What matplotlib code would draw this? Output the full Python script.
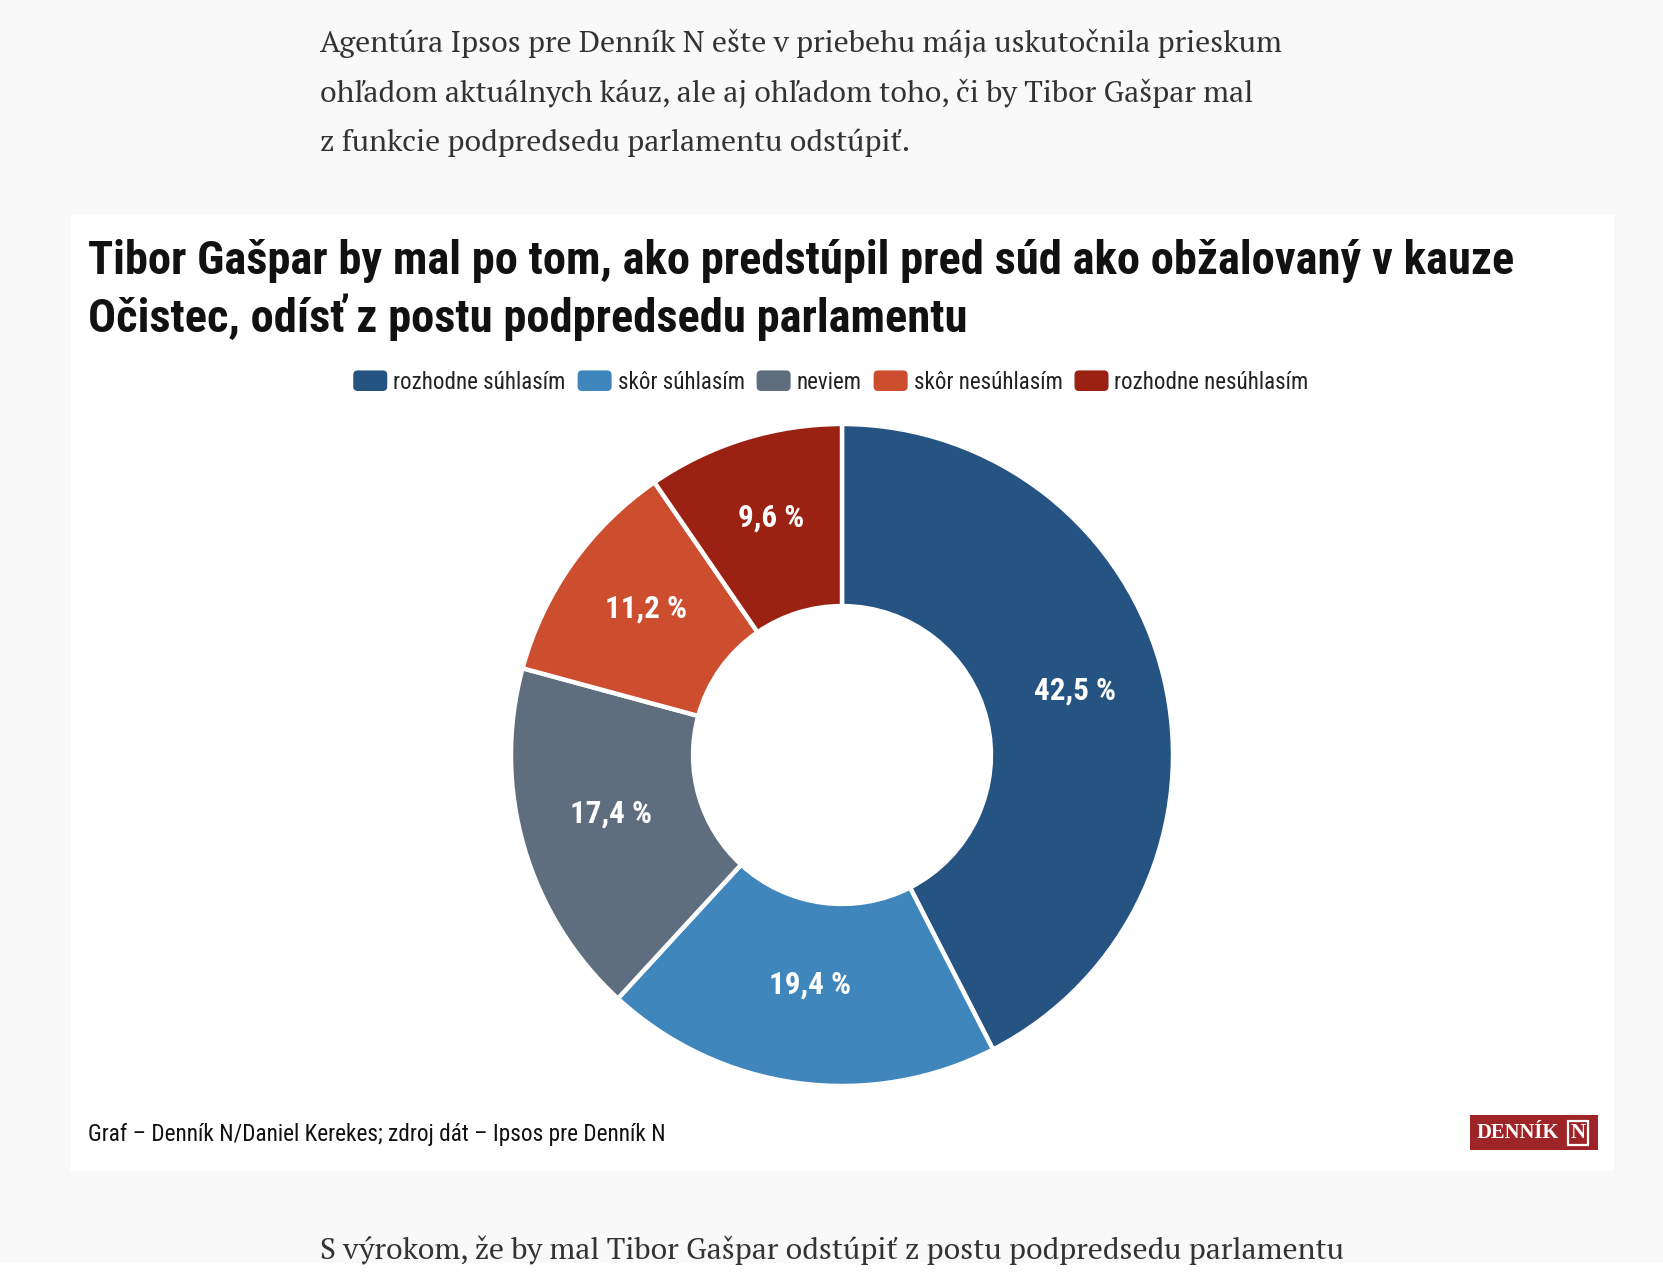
import matplotlib
matplotlib.use("Agg")
import matplotlib.pyplot as plt
from matplotlib import font_manager
from matplotlib.patches import Rectangle, Patch, FancyBboxPatch
from matplotlib.legend_handler import HandlerPatch
from matplotlib.transforms import offset_copy

# data
categories = ["rozhodne súhlasím", "skôr súhlasím", "neviem", "skôr nesúhlasím", "rozhodne nesúhlasím"]
values = [42.5, 19.4, 17.4, 11.2, 9.6]
colors = ["#255482", "#3f86bc", "#5e6e7e", "#cd4e2f", "#9b2212"]

title_lines = ["Tibor Gašpar by mal po tom, ako predstúpil pred súd ako obžalovaný v kauze",
               "Očistec, odísť z postu podpredsedu parlamentu"]
intro = ["Agentúra Ipsos pre Denník N ešte v priebehu mája uskutočnila prieskum",
         "ohľadom aktuálnych káuz, ale aj ohľadom toho, či by Tibor Gašpar mal",
         "z funkcie podpredsedu parlamentu odstúpiť."]
outro = "S výrokom, že by mal Tibor Gašpar odstúpiť z postu podpredsedu parlamentu"
source = "Graf – Denník N/Daniel Kerekes; zdroj dát – Ipsos pre Denník N"

ttf = font_manager.fontManager.ttflist
files = {f.fname.split("/")[-1] for f in ttf}
names = {f.name for f in ttf}
if "RobotoCondensed-Bold.ttf" in files:
    narrow = "Roboto Condensed"
elif "Barlow Condensed" in names:
    narrow = "Barlow Condensed"
else:
    narrow = "Roboto"
serif = next(n for n in ["PT Serif", "Noto Serif", "DejaVu Serif"] if n in names)

W, H = 1663, 1280
fig = plt.figure(figsize=(W / 100, H / 100), dpi=100)
fig.patch.set_facecolor("#f9f9f9")
renderer = fig.canvas.get_renderer()

def fx(x):
    return x / W

def fy(y):
    return 1 - y / H

def fit(t, target):
    w = t.get_window_extent(renderer).width
    t.set_fontsize(t.get_fontsize() * target / w)
    return t.get_fontsize()

# white card
fig.patches.append(Rectangle((fx(70), fy(1171)), fx(1614) - fx(70), fy(215) - fy(1171),
                             transform=fig.transFigure, facecolor="white", edgecolor="none", zorder=-2))
fig.patches.append(Rectangle((0, 0), 1, fy(1263), transform=fig.transFigure,
                             facecolor="white", edgecolor="none", zorder=-2))

# article text
t0 = fig.text(fx(320), fy(43), intro[0], fontsize=20, family=serif, color="#333333", va="center")
fs_serif = fit(t0, 964)
for i, line in enumerate(intro[1:], 1):
    fig.text(fx(320), fy(43 + i * 50), line, fontsize=fs_serif, family=serif, color="#333333", va="center")
fig.text(fx(320), fy(1250), outro, fontsize=fs_serif, family=serif, color="#333333", va="center")

# title
t1 = fig.text(fx(88), fy(261), title_lines[0], fontsize=30, family=narrow, fontweight="bold",
              color="#111111", va="center")
fs_title = fit(t1, 1425)
fig.text(fx(88), fy(317), title_lines[1], fontsize=fs_title, family=narrow, fontweight="bold",
         color="#111111", va="center")

# donut
cx, cy, r = 842, 755, 331
ax = fig.add_axes([fx(cx - r), fy(cy + r), 2 * r / W, 2 * r / H])
wedges, texts, autotexts = ax.pie(values, colors=colors, startangle=90, counterclock=False,
                                  radius=1, pctdistance=0.725,
                                  autopct=lambda p: f"{p:.1f} %".replace(".", ","),
                                  wedgeprops=dict(width=0.55, edgecolor="white", linewidth=3.2,
                                                  joinstyle="round"))
lab_tr = offset_copy(ax.transData, fig=fig, x=0, y=8, units="dots")
for t in autotexts:
    t.set_color("white")
    t.set_fontweight("bold")
    t.set_family(narrow)
    t.set_transform(lab_tr)
fs_lab = fit(autotexts[0], 82)
for t in autotexts:
    t.set_fontsize(fs_lab)
ax.set_xlim(-1, 1)
ax.set_ylim(-1, 1)
ax.set_aspect("equal")
ax.axis("off")

# legend
class RoundHandler(HandlerPatch):
    def create_artists(self, legend, orig_handle, xdescent, ydescent, width, height, fontsize, trans):
        p = FancyBboxPatch((-xdescent, -ydescent), width, height,
                           boxstyle=f"round,pad=0,rounding_size={height * 0.22:.2f}",
                           facecolor=orig_handle.get_facecolor(), edgecolor="none", transform=trans)
        return [p]

tmp = fig.text(0, 0, categories[0], family=narrow, fontsize=15)
fs_leg = fit(tmp, 173)
tmp.remove()
px = fs_leg * 100 / 72
handles = [Patch(facecolor=c, edgecolor="none") for c in colors]
leg = fig.legend(handles, categories, loc="center", bbox_to_anchor=(fx(831), fy(382)), ncol=5,
                 frameon=False, prop=dict(family=narrow, size=fs_leg), handlelength=34 / px,
                 handleheight=23 / px, handletextpad=6 / px, columnspacing=12 / px,
                 labelcolor="#222222", handler_map={Patch: RoundHandler()})

# footer
t2 = fig.text(fx(88), fy(1135), source, fontsize=15, family=narrow, color="#111111", va="center")
fit(t2, 577)

# logo
fig.patches.append(Rectangle((fx(1470), fy(1150)), fx(1598) - fx(1470), fy(1115) - fy(1150),
                             transform=fig.transFigure, facecolor="#9e2427", edgecolor="none", zorder=-1))
t3 = fig.text(fx(1477), fy(1133), "DENNÍK", fontsize=12, family="Liberation Serif", fontweight="bold",
              color="white", va="center")
fit(t3, 82)
fig.text(fx(1578), fy(1133), "N", fontsize=15, family="Liberation Serif", fontweight="bold", color="white",
         va="center", ha="center",
         bbox=dict(facecolor="none", edgecolor="white", linewidth=1.6, boxstyle="square,pad=0.1"))

fig.savefig("out.png", dpi=100, facecolor=fig.get_facecolor())
